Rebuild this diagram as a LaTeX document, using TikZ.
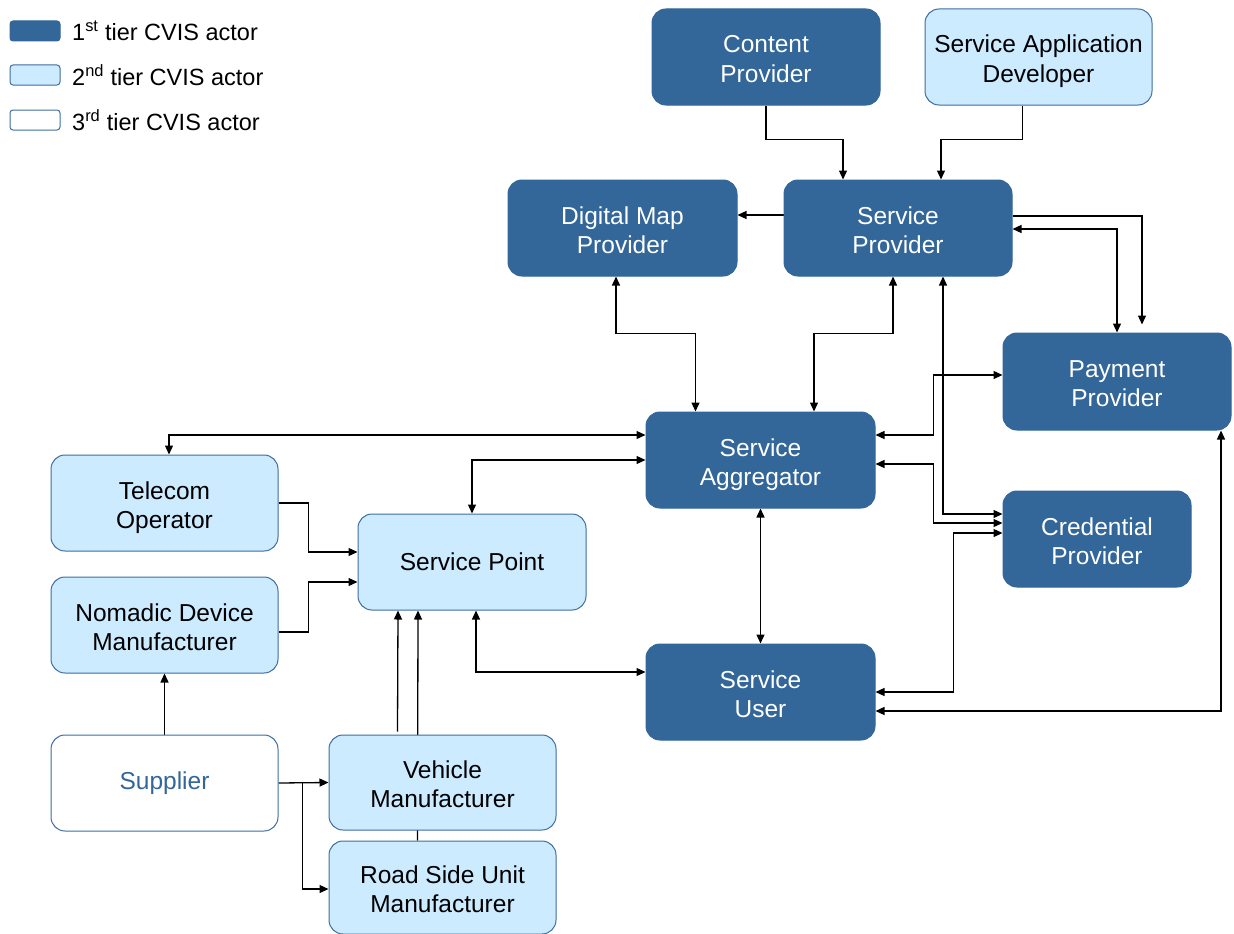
\documentclass[tikz,border=0pt]{standalone}
\usepackage{fontspec}
\setmainfont{Liberation Sans}
\usetikzlibrary{arrows.meta,calc,backgrounds}
\definecolor{darkblue}{RGB}{51,102,153}
\definecolor{lightfill}{RGB}{204,235,255}
\definecolor{boxline}{RGB}{62,110,160}
\newcommand{\twolines}[2]{\begin{tabular}[t]{@{}c@{}}#1\\#2\end{tabular}}
\tikzset{
  base/.style={rectangle,rounded corners=14pt,align=center,inner sep=0pt,
    font=\fontsize{24.5}{29}\selectfont,line width=1pt},
  two/.style={text height=20pt,text depth=28pt},
  tierone/.style={base,fill=darkblue,draw=darkblue,text=white},
  tiertwo/.style={base,fill=lightfill,draw=boxline,text=black},
  tierthree/.style={base,fill=white,draw=boxline,text=darkblue},
  legbox/.style={rectangle,rounded corners=3pt,minimum width=50pt,minimum height=20pt,inner sep=0pt,line width=1pt},
  legtext/.style={anchor=west,inner sep=0pt,font=\fontsize{23.5}{27}\selectfont},
  conn/.style={line width=1.3pt,black},
  arr/.style={conn,-{Triangle[length=9pt,width=8pt]}},
  arrb/.style={conn,{Triangle[length=9pt,width=8pt]}-{Triangle[length=9pt,width=8pt]}},
}
\begin{document}
\begin{tikzpicture}[x=1pt,y=-1pt]
\useasboundingbox (0,0) rectangle (1234,934);
% legend
\node[legbox,fill=darkblue,draw=darkblue] (l1) at (35,31) {};
\node[legbox,fill=lightfill,draw=boxline] (l2) at (35,75) {};
\node[legbox,fill=white,draw=boxline] (l3) at (35,120) {};
\node[legtext] (t1) at (72,31) {1\textsuperscript{st} tier CVIS actor};
\node[legtext] (t2) at (72,75) {2\textsuperscript{nd} tier CVIS actor};
\node[legtext] (t3) at (72,120) {3\textsuperscript{rd} tier CVIS actor};
% nodes
\node[tierone,two,minimum width=228pt,minimum height=96pt] (cp) at (766,57) {\twolines{Content}{Provider}};
\node[tiertwo,two,minimum width=227pt,minimum height=96pt] (sad) at (1038.5,57) {\twolines{Service Application}{Developer}};
\node[tierone,two,minimum width=229pt,minimum height=96pt] (dmp) at (622.5,228) {\twolines{Digital Map}{Provider}};
\node[tierone,two,minimum width=228pt,minimum height=96pt] (sp) at (898,228) {\twolines{Service}{Provider}};
\node[tierone,two,minimum width=228pt,minimum height=97pt] (pp) at (1117,381.5) {\twolines{Payment}{Provider}};
\node[tierone,two,minimum width=229pt,minimum height=96pt] (sa) at (760.5,460) {\twolines{Service}{Aggregator}};
\node[tierone,two,minimum width=188pt,minimum height=96pt] (crp) at (1097,539) {\twolines{Credential}{Provider}};
\node[tiertwo,two,minimum width=227pt,minimum height=96pt] (to) at (164.5,503) {\twolines{Telecom}{Operator}};
\node[tiertwo,minimum width=228pt,minimum height=96pt] (spt) at (472,562) {Service Point};
\node[tiertwo,two,minimum width=227pt,minimum height=96pt] (ndm) at (164.5,625) {\twolines{Nomadic Device}{Manufacturer}};
\node[tierone,two,minimum width=229pt,minimum height=96pt] (su) at (760.5,692) {\twolines{Service}{User}};
\node[tierthree,minimum width=227pt,minimum height=96pt] (sup) at (164.5,783) {Supplier};
\node[tiertwo,two,minimum width=227pt,minimum height=95pt] (vm) at (442.5,782.5) {\twolines{Vehicle}{Manufacturer}};
\node[tiertwo,two,minimum width=227pt,minimum height=93pt] (rsu) at (442.5,887.5) {\twolines{Road Side Unit}{Manufacturer}};
% connectors
\begin{pgfonlayer}{background}
\draw[arr] (cp.south) |- ($(sp.north)+(-55,-40)$) -- ($(sp.north)+(-55,0)$);
\draw[arr] ($(sad.south)+(-16,0)$) |- ($(sp.north)+(43,-40)$) -- ($(sp.north)+(43,0)$);
\draw[arr] ($(sp.west)+(0,-13)$) -- ($(dmp.east)+(0,-13)$);
\draw[arr] ($(sp.east)+(0,-12)$) -| ($(pp.north)+(25,-8)$);
\draw[arrb] (pp.north) |- ($(sp.east)+(0,1)$);
\draw[arrb] ($(dmp.south)+(-6.5,0)$) -- ++(0,57) -| ($(sa.north)+(-65,0)$);
\draw[arrb] ($(sp.south)+(-5,0)$) -- ++(0,57) -| ($(sa.north)+(53.5,0)$);
\draw[arrb] ($(sp.south)+(45,0)$) |- ($(crp.west)+(0,-25)$);
\draw[arrb] ($(sa.east)+(0,-25)$) -- ++(58,0) |- ($(pp.west)+(0,-6.5)$);
\draw[arrb] ($(sa.east)+(0,4)$) -- ++(58,0) |- ($(crp.west)+(0,-16)$);
\draw[arrb] (su.east) -- ++(78,0) |- ($(crp.west)+(0,-6)$);
\draw[arrb] ($(su.east)+(0,19)$) -| ($(pp.south)+(104,0)$);
\draw[arrb] ($(sa.west)+(0,-25)$) -| ($(to.north)+(4.5,0)$);
\draw[arrb] (sa.west) -| (spt.north);
\draw[arrb] (sa.south) -- (su.north);
\draw[arrb] ($(spt.south)+(4,0)$) |- ($(su.west)+(0,-20)$);
\draw[arr] (to.east) -- ++(30,0) |- ($(spt.west)+(0,-10)$);
\draw[arr] ($(ndm.east)+(0,7)$) -- ++(30,0) |- ($(spt.west)+(0,20)$);
\draw[arr] (sup.north) -- (ndm.south);
\draw[arr] ($(vm.north)+(-45,-3)$) -- ($(spt.south)+(-74,0)$);
\draw[arr] ($(rsu.north)+(-25,0)$) -- ($(spt.south)+(-54,0)$);
\draw[arr] (sup.east) -- (vm.west);
\draw[arr] ($(sup.east)+(24,0)$) |- ($(rsu.west)+(0,1.5)$);
\end{pgfonlayer}
\end{tikzpicture}
\end{document}
